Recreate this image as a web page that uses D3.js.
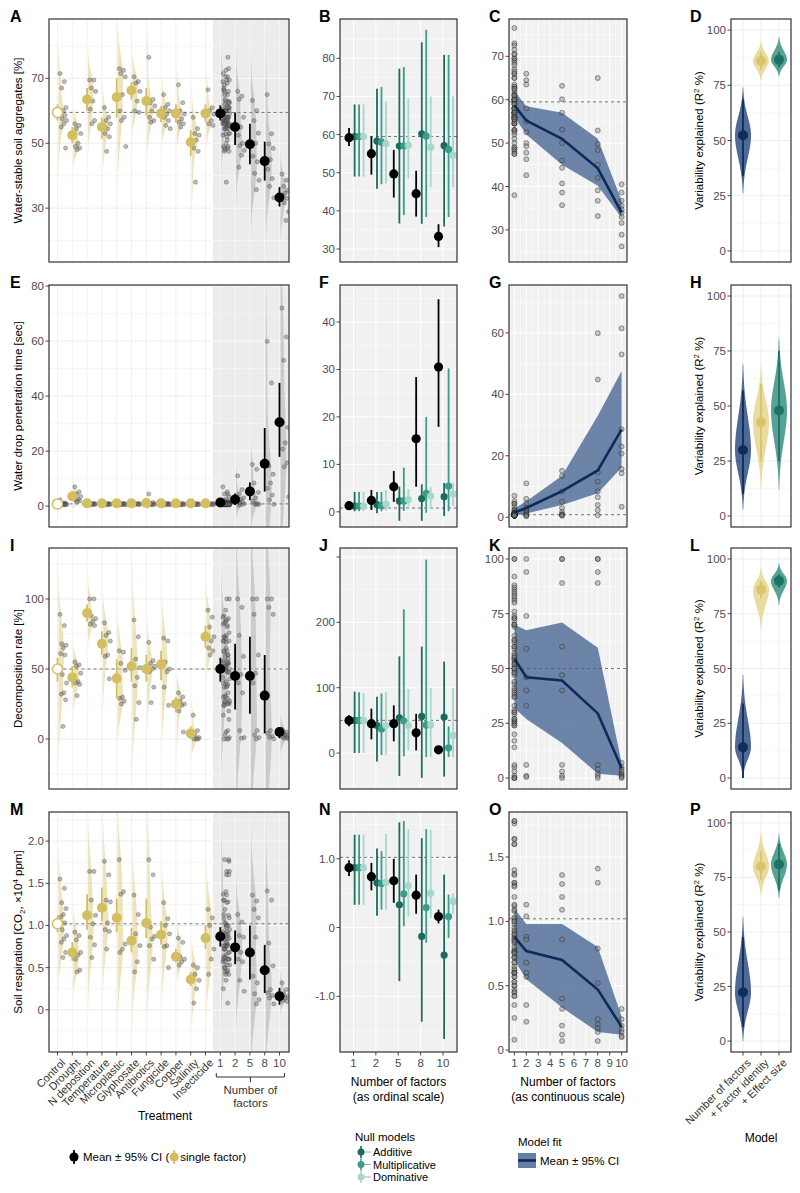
<!DOCTYPE html>
<html><head><meta charset="utf-8">
<script src="https://cdn.jsdelivr.net/npm/d3@7"></script>
<style>body{margin:0;background:#fff} text{font-family:"Liberation Sans",Arial,sans-serif}</style>
</head><body><script>
// ================= DATA =================
const treatments = ["Control","Drought","N deposition","Temperature","Microplastic","Glyphosate","Antibiotics","Fungicide","Copper","Salinity","Insecticide"];
const factorLevels = ["1","2","5","8","10"];
const factorNums = [1,2,5,8,10];
const models = ["Number of factors","+ Factor identity","+ Effect size"];

// ---- Row 1: water-stable soil aggregates ----
const wsaTreatPts = [
 [71.5,69,67,61,60,59.5,58.5,57.5,57,56,55,48.5],
 [56,55.5,54.5,53,50,49,48.5,48],
 [69.5,69.5,67,66,63,60.5,57,56],
 [61,58,57,56,54.5,53,52,47.5],
 [73,72.5,71.5,70.5,65,60,58,57,49],
 [70.5,69,68.5,66,63,60,59.5],
 [76.5,63.5,62.5,61.5,60,58,57,56.5],
 [65,62,61,60,59,58,57,55.5,54.5],
 [68,62.5,60,59,57.5,56.5,56,55],
 [58,54.5,53,52.5,51,48.5,47.5,38],
 [66.5,61,60,59,57,56,55.5]];
const wsaTreatMean = [59.5,52.5,63.5,55,64.2,66.3,63,59.2,59.2,50.3,59.2];
const wsaTreatLo   = [57,50,60,51.5,58,63.5,58.5,56.5,56.5,46,56.5];
const wsaTreatHi   = [62,55,67,58,70,69,67,61.5,62,54,62];
const wsaFacPts = [
 [66,64.5,63.5,58,55,52.5,50,49.3,47.8,46.3,42.6],
 [63.2,60.1,57,53.1,50,46,44.3,40.7,38.6,35.7],
 [65,52.9,49.8,48.4,45,42,39.1,36.7,33.2],
 [40.5,38.6,36.7,35.5,34.7,34,33,31.6,28.9,26.2]];
const wsaFacMean = [59.2,55,49.7,44.5,33.3];
const wsaFacLo   = [57,49.5,43.5,38.5,30.5];
const wsaFacHi   = [61.7,59.5,56,50.5,36.5];
const wsaAddMean = [59.5,58.3,57,60.2,57.1], wsaAddLo = [49,45.8,36.7,36.6,35.9], wsaAddHi = [67.9,72,77.3,84.2,80.9];
const wsaMulMean = [59.5,58,57,59.6,56.1],   wsaMulLo = [49,47,38.9,38.4,38.4],   wsaMulHi = [67.9,72.5,77.7,87.5,80.9];
const wsaDomMean = [59.5,57.6,57.2,56.7,54.6], wsaDomLo = [49,47.2,48.5,46.2,46.2], wsaDomHi = [67.9,68.7,69.5,70,70.2];
const wsaFitMean = [58.7,55.2,51,44.2,34], wsaFitLo = [56,52,45,40.2,32.8], wsaFitHi = [62,58.5,57,51,36.7];
const wsaR2Mean = [52.4,86,86.5], wsaR2Lo = [33.8,82,83], wsaR2Hi = [68.6,90,90], wsaR2Min = [26,77,79], wsaR2Max = [74,95,97];

// ---- Row 2: water drop penetration time ----
const wdpTreatPts = [
 [2.3,1.2,1,0.9,0.8,0.7,0.7,0.6,0.6,0.5,0.5,0.5],
 [7,5.2,4.4,3.5,2.5,2.2,1.9,1.5],
 [1.2,1,0.9,0.8,0.7,0.6,0.6,0.5],
 [1.1,1,0.8,0.7,0.7,0.6,0.5,0.5],
 [1.3,1,0.9,0.8,0.7,0.6,0.6,0.5,0.5],
 [1.2,1,0.9,0.8,0.7,0.6,0.5],
 [4.4,1.3,1,0.8,0.7,0.6,0.5,0.5],
 [1.2,1,0.9,0.8,0.7,0.6,0.6,0.5,0.5],
 [1.1,1,0.8,0.7,0.6,0.6,0.5,0.5],
 [1.2,1,0.9,0.7,0.6,0.6,0.5,0.5],
 [1.1,1,0.8,0.7,0.6,0.5,0.5]];
const wdpTreatMean = [0.8,3.6,1,1,1,1,1.1,1,1,1,1];
const wdpTreatLo   = [0.5,2,0.7,0.7,0.7,0.7,0.5,0.7,0.7,0.7,0.7];
const wdpTreatHi   = [1.2,5.5,1.3,1.3,1.3,1.3,2,1.3,1.3,1.3,1.3];
const wdpFacPts = [
 [11,6,4.5,3,2.5,2,1.5,1,0.8,0.5,0.3],
 [15.1,13.4,8.4,5,3,1.7,1,0.8,0.6,0.5],
 [59.9,44.8,14.6,11.6,8.4,6.5,4,2.3,0.6],
 [72,61.5,53,28.6,23,20.7,15.7,14.3,3.4]];
const wdpFacMean = [1.3,2.4,5.3,15.4,30.5];
const wdpFacLo   = [0.8,0.4,2.1,5.3,17.9];
const wdpFacHi   = [1.8,4.6,8.6,28.4,44.8];
const wdpAddMean = [1.2,1.5,2.3,2.8,3.2], wdpAddLo = [0.1,-0.3,-1.9,-1.9,-0.9], wdpAddHi = [4.2,4.2,5.3,5.8,6.1];
const wdpMulMean = [1.2,1.3,2.3,3.9,5.4], wdpMulLo = [0.1,0.1,0.2,-0.2,0.1],  wdpMulHi = [4.2,4.2,9.3,20,30.2];
const wdpDomMean = [1.2,1.6,2.6,3.3,3.8], wdpDomLo = [0.1,0.2,1.2,0.7,1.2],   wdpDomHi = [4.2,4.6,4.8,5.2,6.1];
const wdpFitMean = [1.5,3,8.5,15.2,28.6], wdpFitLo = [0.5,1.2,4,7.8,16.2], wdpFitHi = [2.8,5.2,13.5,33,47.6];
const wdpR2Mean = [30,42.7,48], wdpR2Lo = [10,25,25], wdpR2Hi = [57,60,75], wdpR2Min = [3,12,12], wdpR2Max = [69,68,81];

// ---- Row 3: decomposition rate ----
const decTreatPts = [
 [89,81,68,67,65,61,60,46,40,33,32,28,9],
 [55,53,52,47,41,40,39,31],
 [100,100,88,86,84,82,81],
 [83,76,74,70,60,59,43],
 [63,62,54,49,30,29,27,25],
 [85,73,57,51,44,38,26,14],
 [69,56,54,52,50,48,37,26],
 [72,70,55,50,48,37,24],
 [33,30,27,25,24,20,5],
 [17,6,3,1,0,0,0],
 [92,87,80,73,70,65,63,60]];
const decTreatMean = [50,44,90,68,43.3,52,50,53.3,25,4,73];
const decTreatLo   = [41,37,84,60,29,41,41,42,19,0,65];
const decTreatHi   = [58,52,96,77,57,65,60,63,30,9,81];
const decFacPts = [
 [100,94,74,59,46,40,33,6,1,0.5],
 [100,100,89,60,47,40,6,3,1,0],
 [100,100,94,89,6,4,2,1,0],
 [7,5,4,3,2,1.5,1,0.5,0]];
const decFacMean = [50,45,45,31,5];
const decFacLo   = [41,21,18,4,0.5];
const decFacHi   = [58,68,73,60,8];
const decAddMean = [50,42,54,56,55], decAddLo = [0,-13,-35,-38,-36], decAddHi = [94,86,148,163,140];
const decMulMean = [50,37,49,43,8],  decMulLo = [0,-3,-5,-6,-6],     decMulHi = [93,91,220,296,41];
const decDomMean = [50,42,42,43,27], decDomLo = [0,-3,4.6,-6,-6],    decDomHi = [92,93,98,100,100];
const decFitMean = [54.5,46,44.5,29.5,4.5], decFitLo = [32,27,16,2,1], decFitHi = [70,67.5,71,59.5,7];
const decR2Mean = [14,86,90], decR2Lo = [0,82,87], decR2Hi = [34,90,93], decR2Min = [0,68,79], decR2Max = [47,96,98];

// ---- Row 4: soil respiration ----
const resTreatPts = [
 [1.55,1.44,1.27,1.2,1.13,1.1,1.03,0.95,0.88,0.84,0.8,0.68,0.62],
 [0.92,0.88,0.83,0.68,0.65,0.6,0.47,0.45],
 [1.64,1.64,1.3,1.12,1.02,0.86,0.77,0.62],
 [1.76,1.6,1.3,1.28,1.03,0.95,0.93,0.72],
 [1.78,1.4,1.37,0.78,0.72,0.68],
 [1.36,1.13,0.9,0.76,0.57,0.45],
 [1.78,1.6,0.98,0.87,0.84,0.76,0.6],
 [1.27,1.08,1.0,0.9,0.76,0.75,0.5],
 [0.85,0.8,0.63,0.6,0.57,0.53],
 [0.53,0.5,0.42,0.35,0.25,0.08],
 [1.19,1.09,1.0,0.72,0.6,0.42]];
const resTreatMean = [1.02,0.68,1.12,1.21,1.09,0.82,1.03,0.89,0.63,0.36,0.85];
const resTreatLo   = [0.92,0.58,0.95,1.05,0.92,0.68,0.85,0.77,0.56,0.28,0.72];
const resTreatHi   = [1.12,0.8,1.37,1.45,1.32,0.97,1.32,1.05,0.72,0.45,1.0];
const resFacPts = [
 [1.13,1.04,0.88,0.86,0.68,0.6,0.57,0.35,0.22],
 [1.36,1.29,1.19,1.09,0.86,0.4,0.32,0.19,0.12,0.07],
 [1.41,1.3,0.79,0.52,0.24,0.2,0.17,0.14,0.07],
 [0.32,0.24,0.19,0.16,0.14,0.11,0.1]];
const resFacMean = [0.87,0.74,0.68,0.47,0.16];
const resFacLo   = [0.75,0.54,0.36,0.2,0.06];
const resFacHi   = [0.98,0.94,1.0,0.77,0.26];
const resAddMean = [0.87,0.65,0.33,-0.13,-0.4], resAddLo = [0.33,0.17,-0.78,-1.37,-1.62], resAddHi = [1.35,1.15,1.53,1.3,0.77];
const resMulMean = [0.87,0.64,0.49,0.29,0.16],  resMulLo = [0.33,0.26,0.02,-0.22,-0.15], resMulHi = [1.35,1.11,1.55,1.43,0.48];
const resDomMean = [0.87,0.66,0.61,0.5,0.38],   resDomLo = [0.33,0.26,0.16,0.14,0.2],    resDomHi = [1.35,1.36,1.43,1.42,0.5];
const resFitMean = [0.88,0.77,0.7,0.47,0.18], resFitLo = [0.7,0.55,0.33,0.14,0.12], resFitHi = [1.1,0.98,0.98,0.8,0.26];
const resR2Mean = [22.4,80,81], resR2Lo = [6.4,74,69], resR2Hi = [47.7,87,90.5], resR2Min = [0,67,65.5], resR2Max = [57,95.6,95];

// ================= LAYOUT / STYLE =================
const COLS = {A:[49,289], B:[340,457], C:[509,627], D:[731,791]};
const ROWS = [[19,262],[285,527],[548,789],[812,1052]];
const GOLD_PT='#D3BE60', GOLD_VIO='#DCCA78', NAVY='#0E2A5A', NAVY_RIB='#4A6893';
const NULL_COL=['#1A6A5D','#3C9B8B','#A7D7CC'];
const MODEL_PT=['#0F2C5D','#D8C46C','#1C7263'], MODEL_VIO=['#2F4F82','#E6D58F','#3A9282'];
const TICKC='#4D4D4D';

const rowsData = [
 {treat:wsaTreatPts, tMean:wsaTreatMean, tLo:wsaTreatLo, tHi:wsaTreatHi, fac:wsaFacPts, fMean:wsaFacMean, fLo:wsaFacLo, fHi:wsaFacHi,
  nulls:[[wsaAddMean,wsaAddLo,wsaAddHi],[wsaMulMean,wsaMulLo,wsaMulHi],[wsaDomMean,wsaDomLo,wsaDomHi]], fit:[wsaFitMean,wsaFitLo,wsaFitHi], r2:[wsaR2Mean,wsaR2Lo,wsaR2Hi,wsaR2Min,wsaR2Max],
  dom:{A:[13.4,88.3],B:[26.6,90.3],C:[22.6,78.6]}, ticks:{A:[30,50,70],B:[30,40,50,60,70,80],C:[30,40,50,60,70]},
  minor:{A:[20,40,60,80],B:[35,45,55,65,75,85],C:[25,35,45,55,65,75]}, fmt:d=>String(d), minBw:1.5,
  ylab:'Water-stable soil aggregates [%]', tags:['A','B','C','D']},
 {treat:wdpTreatPts, tMean:wdpTreatMean, tLo:wdpTreatLo, tHi:wdpTreatHi, fac:wdpFacPts, fMean:wdpFacMean, fLo:wdpFacLo, fHi:wdpFacHi,
  nulls:[[wdpAddMean,wdpAddLo,wdpAddHi],[wdpMulMean,wdpMulLo,wdpMulHi],[wdpDomMean,wdpDomLo,wdpDomHi]], fit:[wdpFitMean,wdpFitLo,wdpFitHi], r2:[wdpR2Mean,wdpR2Lo,wdpR2Hi,wdpR2Min,wdpR2Max],
  dom:{A:[-7.6,80.4],B:[-3.2,47.8],C:[-3.2,75.6]}, ticks:{A:[0,20,40,60,80],B:[0,10,20,30,40],C:[0,20,40,60]},
  minor:{A:[10,30,50,70],B:[5,15,25,35,45],C:[10,30,50,70]}, fmt:d=>String(d), minBw:0.4,
  ylab:'Water drop penetration time [sec]', tags:['E','F','G','H']},
 {treat:decTreatPts, tMean:decTreatMean, tLo:decTreatLo, tHi:decTreatHi, fac:decFacPts, fMean:decFacMean, fLo:decFacLo, fHi:decFacHi,
  nulls:[[decAddMean,decAddLo,decAddHi],[decMulMean,decMulLo,decMulHi],[decDomMean,decDomLo,decDomHi]], fit:[decFitMean,decFitLo,decFitHi], r2:[decR2Mean,decR2Lo,decR2Hi,decR2Min,decR2Max],
  dom:{A:[-35.7,136.4],B:[-55,313.8],C:[-5,105]}, ticks:{A:[0,50,100],B:[0,100,200,300],C:[0,25,50,75,100]},
  minor:{A:[-25,25,75,125],B:[-50,50,150,250],C:[12.5,37.5,62.5,87.5]}, fmt:d=>String(d), minBw:5,
  ylab:'Decomposition rate [%]', tags:['I','J','K','L'], hideLabel:{B:[300]}},
 {treat:resTreatPts, tMean:resTreatMean, tLo:resTreatLo, tHi:resTreatHi, fac:resFacPts, fMean:resFacMean, fLo:resFacLo, fHi:resFacHi,
  nulls:[[resAddMean,resAddLo,resAddHi],[resMulMean,resMulLo,resMulHi],[resDomMean,resDomLo,resDomHi]], fit:[resFitMean,resFitLo,resFitHi], r2:[resR2Mean,resR2Lo,resR2Hi,resR2Min,resR2Max],
  dom:{A:[-0.5,2.345],B:[-1.81,1.68],C:[-0.015,1.85]}, ticks:{A:[0,0.5,1,1.5,2],B:[-1,0,1],C:[0,0.5,1,1.5]},
  minor:{A:[-0.25,0.25,0.75,1.25,1.75,2.25],B:[-1.5,-0.5,0.5,1.5],C:[0.25,0.75,1.25,1.75]},
  fmt:d=>d===0?'0':(d===-1?'-1.0':d.toFixed(1)), minBw:0.06,
  ylab:'Soil respiration', tags:['M','N','O','P']}
];

// ================= DRAWING =================
const svg = d3.select('body').append('svg').attr('width',800).attr('height',1193)
  .style('font-family','"Liberation Sans",Arial,sans-serif');
let clipN = 0;
function makePanel(cx, row, ydom, bg){
  const [x0,x1]=cx, [y0,y1]=row;
  const id='cp'+(clipN++);
  svg.append('clipPath').attr('id',id).append('rect').attr('x',x0).attr('y',y0).attr('width',x1-x0).attr('height',y1-y0);
  svg.append('rect').attr('x',x0).attr('y',y0).attr('width',x1-x0).attr('height',y1-y0).attr('fill',bg);
  const g=svg.append('g').attr('clip-path',`url(#${id})`);
  return {x0,x1,y0,y1,g,y:d3.scaleLinear().domain(ydom).range([y1,y0])};
}
function ln(g,x1,y1,x2,y2,c,w,dash){
  const l=g.append('line').attr('x1',x1).attr('y1',y1).attr('x2',x2).attr('y2',y2).attr('stroke',c).attr('stroke-width',w);
  if(dash) l.attr('stroke-dasharray',dash);
  return l;
}
function finishPanel(p, ticks, fmt, hidden){
  svg.append('rect').attr('x',p.x0).attr('y',p.y0).attr('width',p.x1-p.x0).attr('height',p.y1-p.y0)
    .attr('fill','none').attr('stroke','#333').attr('stroke-width',1.2);
  ticks.forEach(v=>{
    const yy=p.y(v);
    ln(svg,p.x0-3.5,yy,p.x0,yy,'#333',0.9);
    if(!(hidden||[]).includes(v))
      svg.append('text').attr('x',p.x0-5).attr('y',yy).attr('dy','0.35em').attr('text-anchor','end')
        .attr('font-size',11.5).attr('fill',TICKC).text(fmt(v));
  });
}
function hgrid(p, vals, c, w){ vals.forEach(v=>ln(p.g,p.x0,p.y(v),p.x1,p.y(v),c,w)); }
function dashed(p, v, xs){ ln(p.g, xs===undefined?p.x0:xs, p.y(v), p.x1, p.y(v), '#555', 0.8, '3,3'); }

function halfViolin(vals, cx, y, maxW, minBw){
  const n=vals.length, sd=d3.deviation(vals)||0;
  const bw=Math.max(1.06*sd*Math.pow(n,-0.2), minBw);
  const lo=d3.min(vals)-3*bw, hi=d3.max(vals)+3*bw;
  const ts=d3.range(0,81).map(i=>lo+(hi-lo)*i/80);
  const dens=ts.map(t=>d3.sum(vals,v=>Math.exp(-0.5*((t-v)/bw)**2)));
  const m=d3.max(dens);
  return d3.area().curve(d3.curveBasis).y(d=>y(d[0])).x0(cx).x1(d=>cx+maxW*d[1]/m)(ts.map((t,i)=>[t,dens[i]]));
}
const jit = i => ((i*0.6180339887)%1);

// ---- Column A: raincloud ----
function drawRain(R, row, isBottom){
  const p=makePanel(COLS.A,row,R.dom.A,'#fff');
  const cats=[...treatments,...factorLevels];
  const x=d3.scalePoint().domain(cats).range([57.5,279.5]);
  const xs=(x('Insecticide')+x('1'))/2;
  p.g.append('rect').attr('x',xs).attr('y',p.y0).attr('width',p.x1-xs).attr('height',p.y1-p.y0).attr('fill','#ECECEC');
  const gl=(vals,w)=>vals.forEach(v=>{const yy=p.y(v); ln(p.g,p.x0,yy,xs,yy,'#EBEBEB',w); ln(p.g,xs,yy,p.x1,yy,'#FAFAFA',w);});
  gl(R.minor.A,0.45); gl(R.ticks.A,0.9);
  cats.forEach(c=>{const cx=x(c); ln(p.g,cx,p.y0,cx,p.y1,cx<xs?'#EBEBEB':'#FAFAFA',0.7);});
  dashed(p,R.tMean[0],x('Control')+6);
  const groups=treatments.map((t,i)=>({cat:t,pts:R.treat[i],m:R.tMean[i],lo:R.tLo[i],hi:R.tHi[i],k:i===0?'ctrl':'gold'}));
  const one=R.treat.slice(1).flat();
  [one,...R.fac].forEach((pts,j)=>groups.push({cat:factorLevels[j],pts,m:R.fMean[j],lo:R.fLo[j],hi:R.fHi[j],k:'black'}));
  groups.forEach(G=>{
    p.g.append('path').attr('d',halfViolin(G.pts,x(G.cat)+1,p.y,G.k==='black'?6:5.5,R.minBw))
      .attr('fill',G.k==='black'?'#8E8E8E':GOLD_VIO).attr('opacity',G.k==='black'?0.35:0.5);
  });
  groups.forEach(G=>{
    G.pts.forEach((v,i)=>p.g.append('circle').attr('cx',x(G.cat)+2.5+jit(i)*7).attr('cy',p.y(v)).attr('r',2.1)
      .attr('fill','#6A6A6A').attr('fill-opacity',0.45).attr('stroke','#222').attr('stroke-opacity',0.5).attr('stroke-width',0.5));
  });
  groups.forEach(G=>{
    const cx=x(G.cat), c=G.k==='black'?'#000':GOLD_PT;
    ln(p.g,cx,p.y(G.lo),cx,p.y(G.hi),c,1.8);
    p.g.append('circle').attr('cx',cx).attr('cy',p.y(G.m)).attr('r',5)
      .attr('fill',G.k==='ctrl'?'#fff':c).attr('stroke',c).attr('stroke-width',G.k==='ctrl'?1.5:0);
  });
  finishPanel(p,R.ticks.A,R.fmt);
  if(isBottom){
    cats.forEach(c=>{
      const cx=x(c); ln(svg,cx,p.y1,cx,p.y1+3.5,'#333',0.9);
      if(treatments.includes(c))
        svg.append('text').attr('transform',`translate(${cx+3},${p.y1+6}) rotate(-45)`).attr('text-anchor','end')
          .attr('dy','0.71em').attr('font-size',11).attr('fill','#333').text(c);
      else
        svg.append('text').attr('x',cx).attr('y',p.y1+15).attr('text-anchor','middle').attr('font-size',11.5).attr('fill',TICKC).text(c);
    });
    const bx0=x('1')-4, bx1=x('10')+5, by=p.y1+25, bc=(bx0+bx1)/2;
    ln(svg,bx0,by,bx1,by,'#333',1); ln(svg,bx0,by,bx0,by-4,'#333',1); ln(svg,bx1,by,bx1,by-4,'#333',1); ln(svg,bc,by,bc,by+5,'#333',1);
    svg.append('text').attr('x',bc).attr('y',by+17).attr('text-anchor','middle').attr('font-size',11.5).attr('fill','#333').text('Number of');
    svg.append('text').attr('x',bc).attr('y',by+30).attr('text-anchor','middle').attr('font-size',11.5).attr('fill','#333').text('factors');
    svg.append('text').attr('x',(p.x0+p.x1)/2-4).attr('y',by+43).attr('text-anchor','middle').attr('font-size',12).text('Treatment');
  }
}

// ---- Column B: null models ----
function drawNull(R,row,isBottom){
  const p=makePanel(COLS.B,row,R.dom.B,'#F1F1F1');
  const x=d3.scalePoint().domain(factorLevels).range([353.5,443]);
  const st=x.step();
  hgrid(p,R.minor.B,'#fff',0.5); hgrid(p,R.ticks.B,'#fff',1);
  factorLevels.forEach(f=>ln(p.g,x(f),p.y0,x(f),p.y1,'#fff',1));
  dashed(p,R.tMean[0]);
  const offs=[0.05,0.25,0.45];
  R.nulls.forEach((nm,k)=>factorLevels.forEach((f,j)=>{
    const cx=x(f)+offs[k]*st;
    ln(p.g,cx,p.y(nm[1][j]),cx,p.y(nm[2][j]),NULL_COL[k],1.8);
    p.g.append('circle').attr('cx',cx).attr('cy',p.y(nm[0][j])).attr('r',3.6).attr('fill',NULL_COL[k]);
  }));
  factorLevels.forEach((f,j)=>{
    const cx=x(f)-0.2*st;
    ln(p.g,cx,p.y(R.fLo[j]),cx,p.y(R.fHi[j]),'#000',1.8);
    p.g.append('circle').attr('cx',cx).attr('cy',p.y(R.fMean[j])).attr('r',4.6).attr('fill','#000');
  });
  finishPanel(p,R.ticks.B,R.fmt,(R.hideLabel||{}).B);
  if(isBottom){
    factorLevels.forEach(f=>{ln(svg,x(f),p.y1,x(f),p.y1+3.5,'#333',0.9);
      svg.append('text').attr('x',x(f)).attr('y',p.y1+15).attr('text-anchor','middle').attr('font-size',11.5).attr('fill',TICKC).text(f);});
    const cx=(p.x0+p.x1)/2;
    svg.append('text').attr('x',cx).attr('y',p.y1+34).attr('text-anchor','middle').attr('font-size',12).text('Number of factors');
    svg.append('text').attr('x',cx).attr('y',p.y1+49).attr('text-anchor','middle').attr('font-size',12).text('(as ordinal scale)');
  }
}

// ---- Column C: continuous fit ----
function drawFit(R,row,isBottom){
  const p=makePanel(COLS.C,row,R.dom.C,'#F1F1F1');
  const x=d3.scaleLinear().domain([1,10]).range([514.4,621.6]);
  hgrid(p,R.minor.C,'#fff',0.5); hgrid(p,R.ticks.C,'#fff',1);
  d3.range(1,10).forEach(v=>ln(p.g,x(v+0.5),p.y0,x(v+0.5),p.y1,'#fff',0.5));
  d3.range(1,11).forEach(v=>ln(p.g,x(v),p.y0,x(v),p.y1,'#fff',1));
  const [fm,flo,fhi]=R.fit;
  const area=d3.area().x((d,i)=>x(factorNums[i])).y0((d,i)=>p.y(flo[i])).y1((d,i)=>p.y(fhi[i]));
  p.g.append('path').attr('d',area(factorNums)).attr('fill',NAVY_RIB).attr('opacity',0.8);
  dashed(p,R.tMean[0]);
  const one=R.treat.slice(1).flat();
  [one,...R.fac].forEach((pts,j)=>pts.forEach(v=>p.g.append('circle').attr('cx',x(factorNums[j])).attr('cy',p.y(v)).attr('r',2.5)
      .attr('fill','#777').attr('fill-opacity',0.4).attr('stroke','#222').attr('stroke-opacity',0.6).attr('stroke-width',0.7)));
  p.g.append('path').attr('d',d3.line().x((d,i)=>x(factorNums[i])).y((d,i)=>p.y(fm[i]))(factorNums))
    .attr('fill','none').attr('stroke',NAVY).attr('stroke-width',2.6);
  finishPanel(p,R.ticks.C,R.fmt);
  if(isBottom){
    d3.range(1,11).forEach(v=>{ln(svg,x(v),p.y1,x(v),p.y1+3.5,'#333',0.9);
      svg.append('text').attr('x',x(v)).attr('y',p.y1+15).attr('text-anchor','middle').attr('font-size',11.5).attr('fill',TICKC).text(v);});
    const cx=(p.x0+p.x1)/2;
    svg.append('text').attr('x',cx).attr('y',p.y1+34).attr('text-anchor','middle').attr('font-size',12).text('Number of factors');
    svg.append('text').attr('x',cx).attr('y',p.y1+49).attr('text-anchor','middle').attr('font-size',12).text('(as continuous scale)');
  }
}

// ---- Column D: model R2 violins ----
function violinPath(lo,mode,hi,cx,y,w){
  const sL=Math.max(mode-lo,0.5)/2.6, sU=Math.max(hi-mode,0.5)/2.6;
  const ts=d3.range(0,81).map(k=>lo+(hi-lo)*k/80);
  const d=ts.map(t=>[t,Math.exp(-0.5*((t-mode)/(t<mode?sL:sU))**2)]);
  return d3.area().curve(d3.curveBasis).y(e=>y(e[0])).x0(e=>cx-w*e[1]).x1(e=>cx+w*e[1])(d);
}
function drawModels(R,row,isBottom){
  const p=makePanel(COLS.D,row,[-5,105],'#fff');
  const x=d3.scalePoint().domain(models).range([743,779]);
  hgrid(p,[12.5,37.5,62.5,87.5],'#EFEFEF',0.5); hgrid(p,[0,25,50,75,100],'#EBEBEB',0.9);
  models.forEach(m=>ln(p.g,x(m),p.y0,x(m),p.y1,'#EBEBEB',0.9));
  const [mn,lo,hi,vmin,vmax]=R.r2;
  models.forEach((m,i)=>{
    const cx=x(m);
    p.g.append('path').attr('d',violinPath(vmin[i],mn[i],vmax[i],cx,p.y,8)).attr('fill',MODEL_VIO[i]).attr('opacity',0.85);
    ln(p.g,cx,p.y(lo[i]),cx,p.y(hi[i]),MODEL_PT[i],1.8);
    p.g.append('circle').attr('cx',cx).attr('cy',p.y(mn[i])).attr('r',5).attr('fill',MODEL_PT[i]);
  });
  finishPanel(p,[0,25,50,75,100],d=>String(d));
  const t=svg.append('text').attr('transform',`translate(703,${(p.y0+p.y1)/2}) rotate(-90)`).attr('text-anchor','middle').attr('font-size',11.5);
  t.append('tspan').text('Variability explained (R');
  t.append('tspan').attr('dy',-4).attr('font-size',8).text('2');
  t.append('tspan').attr('dy',4).text(' %)');
  if(isBottom){
    models.forEach(m=>{ln(svg,x(m),p.y1,x(m),p.y1+3.5,'#333',0.9);
      svg.append('text').attr('transform',`translate(${x(m)+3},${p.y1+6}) rotate(-45)`).attr('text-anchor','end')
        .attr('dy','0.71em').attr('font-size',11).attr('fill','#333').text(m);});
    svg.append('text').attr('x',x(models[1])).attr('y',p.y1+90).attr('text-anchor','middle').attr('font-size',12).text('Model');
  }
}

rowsData.forEach((R,r)=>{
  const row=ROWS[r], bottom=r===3;
  drawRain(R,row,bottom); drawNull(R,row,bottom); drawFit(R,row,bottom); drawModels(R,row,bottom);
  [10,319,489,690].forEach((tx,k)=>svg.append('text').attr('x',tx).attr('y',row[0]+3).attr('font-size',16).attr('font-weight','bold').text(R.tags[k]));
  const t=svg.append('text').attr('transform',`translate(22,${(row[0]+row[1])/2}) rotate(-90)`).attr('text-anchor','middle').attr('font-size',11.5);
  if(r===3){
    t.append('tspan').text('Soil respiration [CO');
    t.append('tspan').attr('dy',3).attr('font-size',8).text('2');
    t.append('tspan').attr('dy',-3).text(', ×10');
    t.append('tspan').attr('dy',-4).attr('font-size',8).text('4');
    t.append('tspan').attr('dy',4).text(' ppm]');
  } else t.text(R.ylab);
});

// ================= LEGENDS (each centred under its own panel column) =================
const lg=svg.append('g').attr('font-size',11.5);
const LY=1157;
// left legend (column A)
const lx=74;
ln(lg,lx,LY-7,lx,LY+7,'#000',1.8);
lg.append('circle').attr('cx',lx).attr('cy',LY).attr('r',4.6).attr('fill','#000');
const lt1=lg.append('text').attr('x',lx+9).attr('y',LY+4).text('Mean ± 95% CI (');
const w1=lt1.node().getComputedTextLength();
ln(lg,lx+9+w1+5,LY-7,lx+9+w1+5,LY+7,GOLD_PT,1.8);
lg.append('circle').attr('cx',lx+9+w1+5).attr('cy',LY).attr('r',4.6).attr('fill',GOLD_PT);
lg.append('text').attr('x',lx+9+w1+11).attr('y',LY+4).text('single factor)');

// null models legend (column B)
const nullNames=['Additive','Multiplicative','Dominative'];
const nx=361;
lg.append('text').attr('x',nx-6).attr('y',1141).text('Null models');
nullNames.forEach((nm,k)=>{
  const ky=1152+k*12.5;
  ln(lg,nx,ky-6,nx,ky+6,NULL_COL[k],1.6);
  ln(lg,nx,ky,nx+10,ky,'#999',0.8);
  lg.append('circle').attr('cx',nx).attr('cy',ky).attr('r',3.5).attr('fill',NULL_COL[k]);
  lg.append('text').attr('x',nx+12).attr('y',ky+4).attr('font-size',11).text(nm);
});
// model fit legend (column C)
const mx=518;
lg.append('text').attr('x',mx).attr('y',1146).text('Model fit');
lg.append('rect').attr('x',mx).attr('y',1153).attr('width',18).attr('height',15).attr('fill',NAVY_RIB).attr('opacity',0.85);
ln(lg,mx,1160.5,mx+18,1160.5,NAVY,2.6);
lg.append('text').attr('x',mx+22).attr('y',1165).text('Mean ± 95% CI');
</script></body></html>
